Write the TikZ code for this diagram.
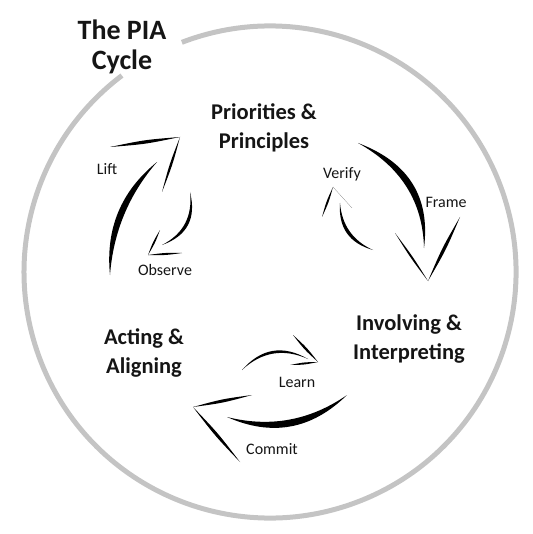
\documentclass[tikz,border=0pt]{standalone}
\usepackage{fontspec}
\setmainfont{Carlito}
\usetikzlibrary{calc}
\definecolor{rimgray}{HTML}{C4C4C4}
\definecolor{ink}{HTML}{151515}
% curved brush shaft: start, bend, end, width
\newcommand{\sweep}[4]{%
  \fill[brush] (#1) .. controls ($(#1)!2/3!(#2)+(#1)!#4!90:(#3)-(#1)$)
      and ($(#3)!2/3!(#2)+(#1)!#4!90:(#3)-(#1)$) .. (#3)
    .. controls ($(#3)!2/3!(#2)+(#1)!#4!-90:(#3)-(#1)$)
      and ($(#1)!2/3!(#2)+(#1)!#4!-90:(#3)-(#1)$) .. (#1);}
% straight brush flick: from, to, width
\newcommand{\flick}[3]{%
  \fill[brush] (#1) .. controls ($(#1)!.5!(#2)!#3!90:(#2)$) .. (#2)
    .. controls ($(#1)!.5!(#2)!#3!-90:(#2)$) .. (#1);}
\tikzset{
  rim/.style={draw=rimgray,line width=5pt},
  brush/.style={fill=black},
  title/.style={font=\bfseries\fontsize{28}{30}\selectfont,align=center,text=ink},
  stage/.style={font=\bfseries\fontsize{22.5}{29}\selectfont,align=center,text=ink},
  move/.style={font=\fontsize{16}{18}\selectfont,text=ink}
}
\begin{document}
\begin{tikzpicture}[x=1pt,y=-1pt]
  \useasboundingbox (0,0) rectangle (532,534);
  \draw[rim] (270,272) ++(249:246) arc[start angle=249,end angle=593,radius=246];

  \node[title] (pia) at (122,47) {The PIA\\Cycle};
  \node[stage] (prio) at (264,128) {Priorities \&\\Principles};
  \node[stage] (inv) at (409,339) {Involving \&\\Interpreting};
  \node[stage] (act) at (144,353) {Acting \&\\Aligning};

  \node[move] (lift) at (107,169) {Lift};
  \node[move] (observe) at (165,270) {Observe};
  \node[move] (verify) at (342,174) {Verify};
  \node[move] (frame) at (446,202) {Frame};
  \node[move] (learn) at (297,382) {Learn};
  \node[move] (commit) at (272,449) {Commit};

  \coordinate (lift tip) at (180,137);
  \coordinate (observe tip) at (148,255);
  \coordinate (frame tip) at (428,281);
  \coordinate (verify tip) at (333,187);
  \coordinate (learn tip) at (318,362);
  \coordinate (commit tip) at (193,407);

  % Lift
  \sweep{110,275}{109,208}{157,162}{4.3pt}
  \flick{110,147}{lift tip}{2.2pt}
  \flick{lift tip}{162,192}{1.6pt}
  % Observe
  \sweep{190,192}{197,230}{162,245}{2.2pt}
  \flick{160,230}{observe tip}{1.2pt}
  \flick{observe tip}{182,253}{1.3pt}
  % Frame
  \sweep{358,143}{428,175}{424,248}{4.5pt}
  \flick{395,233}{frame tip}{1.3pt}
  \flick{frame tip}{460,217}{2.2pt}
  % Verify
  \sweep{373,250}{340,238}{340,203}{2.2pt}
  \flick{322,217}{verify tip}{1.3pt}
  \flick{verify tip}{352,208}{1pt}
  % Learn
  \sweep{242,370}{271,340}{308,359}{1.8pt}
  \flick{293,335}{learn tip}{1.6pt}
  \flick{learn tip}{290,365}{1.3pt}
  % Commit
  \sweep{347,395}{293,440}{227,417}{4.6pt}
  \flick{252,395}{commit tip}{2pt}
  \flick{commit tip}{240,462}{2pt}
\end{tikzpicture}
\end{document}
